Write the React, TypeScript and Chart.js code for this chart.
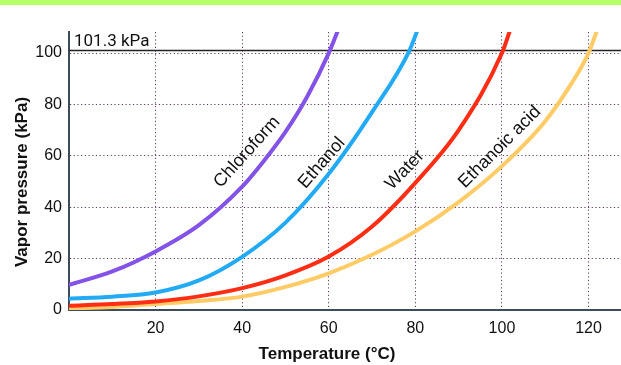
import React, { useEffect, useRef } from "react";
import { Chart, registerables } from "chart.js";

Chart.register(...registerables);

// Data (temperature °C, vapor pressure kPa)
const chloroformT = [0, 10, 20, 30, 40, 45, 50, 55, 60, 62];
const chloroformP = [9.8, 15, 22.8, 33, 48, 58, 69.3, 83, 100, 108.3];
const ethanolT = [0, 10, 20, 30, 40, 50, 60, 70, 78.5, 80.4];
const ethanolP = [4.4, 5.2, 6.8, 11.5, 20.7, 34, 53, 77, 100.5, 108.5];
const waterT = [0, 10, 20, 30, 40, 50, 60, 70, 80, 90, 100, 101.8];
const waterP = [1.7, 2.3, 3.3, 5.3, 8.5, 13.5, 20.8, 32.5, 49.5, 70, 100, 108.5];
const aceticT = [0, 10, 20, 30, 40, 50, 60, 70, 80, 90, 100, 110, 116, 120, 121.9];
const aceticP = [0.6, 1.2, 2.3, 3.5, 5.2, 9, 14.3, 21.5, 30.6, 42, 56, 73.5, 88, 100, 108.5];

const seriesNames = ["Chloroform", "Ethanol", "Water", "Ethanoic acid"];
const seriesColors = ["#8352e6", "#22aaf4", "#ff2d14", "#ffcb66"];
// label anchor positions (data coords) and rotation (deg)
const labelX = [41.1, 58.4, 77.6, 99.5];
const labelY = [61.5, 57.2, 54.5, 63.4];
const labelAngle = [-48, -49, -46, -45];

const xTicks = [20, 40, 60, 80, 100, 120];
const yTicks = [0, 20, 40, 60, 80, 100];
const refPressure = 101.3;
const refLabel = "101.3 kPa";
const xTitle = "Temperature (°C)";
const yTitle = "Vapor pressure (kPa)";

const zip = (t: number[], p: number[]) => t.map((v, i) => ({ x: v, y: p[i] }));

export default function App() {
  const ref = useRef<HTMLCanvasElement | null>(null);
  useEffect(() => {
    const canvas = ref.current!;
    const overlay = {
      id: "overlay",
      beforeDraw(chart: any) {
        const ctx = chart.ctx;
        ctx.save();
        ctx.fillStyle = "#b6ff66";
        ctx.fillRect(0, 0, chart.width, 5);
        ctx.restore();
      },
      beforeDatasetsDraw(chart: any) {
        const ctx = chart.ctx;
        const { y } = chart.scales;
        const a = chart.chartArea;
        ctx.save();
        const yy = Math.round(y.getPixelForValue(refPressure)) + 0.5;
        ctx.strokeStyle = "#222";
        ctx.lineWidth = 1.5;
        ctx.beginPath();
        ctx.moveTo(a.left, yy);
        ctx.lineTo(a.right, yy);
        ctx.stroke();
        ctx.fillStyle = "#111";
        ctx.font = "17px Roboto";
        ctx.textBaseline = "alphabetic";
        ctx.textAlign = "left";
        ctx.fillText(refLabel, a.left + 5, yy - 5);
        // axis titles
        ctx.font = "bold 17px 'Liberation Sans'";
        ctx.textAlign = "center";
        ctx.textBaseline = "middle";
        ctx.fillText(xTitle, 327, 354);
        ctx.save();
        ctx.translate(22, 182);
        ctx.rotate(-Math.PI / 2);
        ctx.fillText(yTitle, 0, 0);
        ctx.restore();
        ctx.restore();
      },
      afterDatasetsDraw(chart: any) {
        const ctx = chart.ctx;
        const { x, y } = chart.scales;
        ctx.save();
        ctx.fillStyle = "#111";
        ctx.font = "18px 'Liberation Sans'";
        ctx.textAlign = "center";
        ctx.textBaseline = "middle";
        seriesNames.forEach((n, i) => {
          ctx.save();
          ctx.translate(x.getPixelForValue(labelX[i]), y.getPixelForValue(labelY[i]));
          ctx.rotate((labelAngle[i] * Math.PI) / 180);
          ctx.fillText(n, 0, 0);
          ctx.restore();
        });
        ctx.restore();
      },
    };
    const mk = (t: number[], p: number[], i: number) => ({
      label: seriesNames[i],
      data: zip(t, p),
      borderColor: seriesColors[i],
      backgroundColor: seriesColors[i],
      borderWidth: 4,
      borderCapStyle: "round",
      pointRadius: 0,
      cubicInterpolationMode: "monotone",
      fill: false,
    });
    const gridColor = "#5e3f62";
    const chart = new Chart(canvas, {
      type: "line",
      data: {
        datasets: [
          mk(chloroformT, chloroformP, 0),
          mk(ethanolT, ethanolP, 1),
          mk(waterT, waterP, 2),
          mk(aceticT, aceticP, 3),
        ] as any,
      },
      plugins: [overlay],
      options: {
        animation: false,
        responsive: false,
        maintainAspectRatio: false,
        layout: { padding: { top: 32, right: 0, left: 0, bottom: 0 } },
        plugins: { legend: { display: false }, tooltip: { enabled: false } },
        scales: {
          x: {
            type: "linear",
            min: 0,
            max: 127.5,
            afterBuildTicks: (s: any) => {
              s.ticks = xTicks.map((v) => ({ value: v }));
            },
            afterFit: (s: any) => {
              s.height = 55;
            },
            grid: {
              color: gridColor,
              lineWidth: 1,
              drawTicks: false,
            } as any,
            border: { color: "#3d4b5c", width: 2, dash: [1.2, 2.5] } as any,
            ticks: {
              padding: 9,
              color: "#111",
              font: { family: "'Liberation Sans'", size: 16 },
            },
            title: { display: false },
          },
          y: {
            type: "linear",
            min: 0,
            max: 108.2,
            afterBuildTicks: (s: any) => {
              s.ticks = yTicks.map((v) => ({ value: v }));
            },
            afterFit: (s: any) => {
              s.width = 69;
            },
            grid: {
              color: (c: any) => (c.tick && c.tick.value === 0 ? "rgba(0,0,0,0)" : gridColor),
              lineWidth: 1,
              drawTicks: false,
            },
            border: { color: "#3d4b5c", width: 2, dash: [1.2, 2.5] } as any,
            ticks: {
              padding: 7,
              color: "#111",
              font: { family: "'Liberation Sans'", size: 16 },
            },
            title: { display: false },
          },
        },
      } as any,
    });
    return () => chart.destroy();
  }, []);
  return (
    <div style={{ position: "absolute", left: 0, top: 0, width: 621, height: 365, background: "#fff" }}>
      <canvas ref={ref} width={621} height={365} style={{ display: "block", width: 621, height: 365 }} />
    </div>
  );
}
